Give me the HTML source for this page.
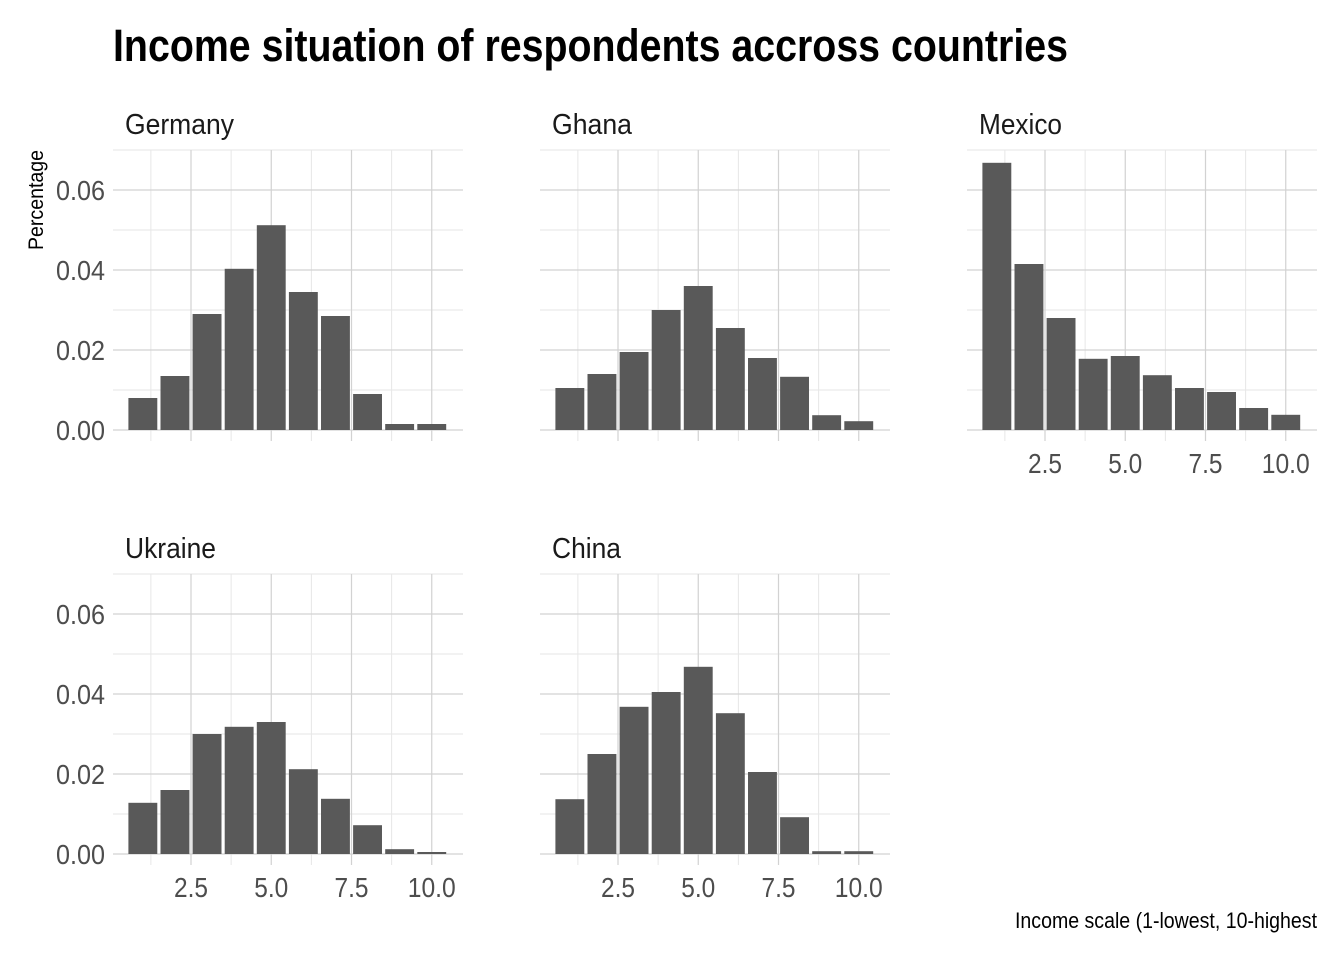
<!DOCTYPE html>
<html><head><meta charset="utf-8">
<style>
body{margin:0;background:#fff;}
svg text{font-family:"Liberation Sans Narrow","Liberation Sans",sans-serif;}
</style></head>
<body>
<svg id="c" width="1344" height="960" xmlns="http://www.w3.org/2000/svg">
<text x="113" y="61" font-size="45" font-weight="bold" fill="#000" textLength="955" lengthAdjust="spacingAndGlyphs">Income situation of respondents accross countries</text>
<text transform="translate(43,200) rotate(-90)" text-anchor="middle" font-size="21" fill="#000" textLength="100" lengthAdjust="spacingAndGlyphs">Percentage</text>
<text x="1317" y="928" text-anchor="end" font-size="22" fill="#000" textLength="302" lengthAdjust="spacingAndGlyphs">Income scale (1-lowest, 10-highest</text>
</svg>
<script>
const countries=["Germany","Ghana","Mexico","Ukraine","China"];
const germany=[0.008,0.0135,0.029,0.0403,0.0512,0.0345,0.0285,0.009,0.0015,0.0015];
const ghana=[0.0105,0.014,0.0195,0.030,0.036,0.0255,0.018,0.0133,0.0037,0.0022];
const mexico=[0.0668,0.0415,0.028,0.0178,0.0185,0.0137,0.0105,0.0095,0.0055,0.0038];
const ukraine=[0.0128,0.016,0.030,0.0318,0.033,0.0212,0.0138,0.0072,0.0012,0.0005];
const china=[0.0137,0.025,0.0368,0.0405,0.0468,0.0352,0.0205,0.0092,0.0007,0.0007];
const incomeLevels=[1,2,3,4,5,6,7,8,9,10];
const xTicks=[2.5,5.0,7.5,10.0];
const yTicks=[0,0.02,0.04,0.06];
const series=[germany,ghana,mexico,ukraine,china];
const stripWidths={Germany:109,Ghana:80,Mexico:83,Ukraine:91,China:69};
const svg=document.getElementById('c');
const NS="http://www.w3.org/2000/svg";
const panels=[[0,0,true,false],[427,0,false,false],[854,0,false,true],[0,424,true,true],[427,424,false,true]];
function mk(t,a,p){const e=document.createElementNS(NS,t);for(const k in a)e.setAttribute(k,a[k]);(p||svg).appendChild(e);return e;}
panels.forEach((p,i)=>{
  const [dx,dy,showY,showX]=p;
  const g=mk('g',{});
  
  
  const X=v=>dx+191+(v-2.5)*32.1;
  const Y=v=>dy+430-v*4000;
  const L=dx+113,R=dx+463,T=dy+150,B=dy+441;
  for(let v=0.01;v<0.075;v+=0.02){const l=mk('line',{x1:L,x2:R,y1:Y(v),y2:Y(v),stroke:'#e6e6e6','stroke-width':1},g);}
  [1.25,3.75,6.25,8.75].forEach(v=>{const l=mk('line',{x1:X(v),x2:X(v),y1:T,y2:B,stroke:'#e6e6e6','stroke-width':1},g);});
  yTicks.forEach(v=>{const l=mk('line',{x1:L,x2:R,y1:Y(v),y2:Y(v),stroke:'#d2d2d2','stroke-width':1.2},g);});
  xTicks.forEach(v=>{const l=mk('line',{x1:X(v),x2:X(v),y1:T,y2:B,stroke:'#d2d2d2','stroke-width':1.2},g);});
  series[i].forEach((v,j)=>{const x=incomeLevels[j];const r=mk('rect',{x:X(x-0.45),width:32.1*0.9,y:Y(v),height:Y(0)-Y(v),fill:'#595959'},g);});
  const s=mk('text',{x:dx+125,y:dy+134,'font-size':29,fill:'#1a1a1a',textLength:stripWidths[countries[i]],lengthAdjust:'spacingAndGlyphs'},g);s.textContent=countries[i];
  
  if(showY) yTicks.forEach(v=>{const t=mk('text',{x:dx+105,y:Y(v)+10,'text-anchor':'end','font-size':28,fill:'#4d4d4d',textLength:49,lengthAdjust:'spacingAndGlyphs'},g);t.textContent=v.toFixed(2);});
  if(showX) xTicks.forEach(v=>{const t=mk('text',{x:X(v),y:dy+473,'text-anchor':'middle','font-size':28,fill:'#4d4d4d',textLength:(v>=10?48:34),lengthAdjust:'spacingAndGlyphs'},g);t.textContent=v.toFixed(1);});
});
</script>
</body></html>
